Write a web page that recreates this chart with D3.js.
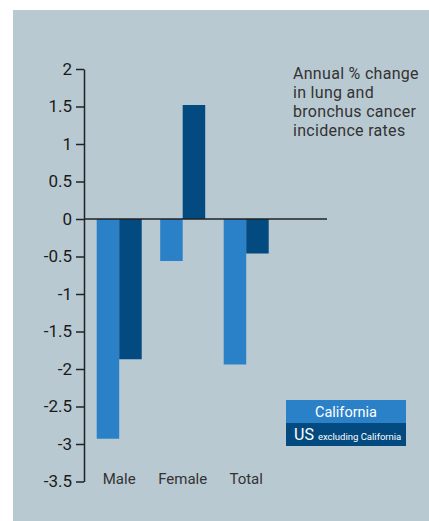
<!DOCTYPE html>
<html><head><meta charset="utf-8">
<script src="https://cdn.jsdelivr.net/npm/d3@7"></script>
<style>
html,body{margin:0;padding:0;background:#fff;}
svg{display:block;}
</style></head>
<body>
<script>
const categories = ["Male", "Female", "Total"];
const seriesNames = ["California", "US excluding California"];
const california = [-2.93, -0.56, -1.94];
const usExclCalifornia = [-1.87, 1.52, -0.46];
const yTicks = [2, 1.5, 1, 0.5, 0, -0.5, -1, -1.5, -2, -2.5, -3, -3.5];
const annotation = ["Annual % change", "in lung and", "bronchus cancer", "incidence rates"];

const W = 429, H = 521;
const colors = ["#2a81c7", "#034a80"];
const font = "Roboto, 'Liberation Sans', Arial, sans-serif";

const svg = d3.select("body").append("svg").attr("width", W).attr("height", H);
svg.append("rect").attr("x", 13).attr("y", 10).attr("width", W - 13).attr("height", H - 10).attr("fill", "#b9c9d2");

const y = d3.scaleLinear().domain([-3.5, 2]).range([481.5, 69]);
const x0 = d3.scaleBand().domain(categories).range([84, 281.4]).paddingInner(0.291).paddingOuter(0.2);
const x1 = d3.scaleBand().domain(seriesNames).range([0, x0.bandwidth()]);

const data = categories.map((c, i) => ({cat: c, vals: [california[i], usExclCalifornia[i]]}));

const g = svg.append("g");
data.forEach(d => {
  d.vals.forEach((v, j) => {
    g.append("rect")
      .attr("x", x0(d.cat) + x1(seriesNames[j]))
      .attr("width", x1.bandwidth())
      .attr("y", y(Math.max(0, v)))
      .attr("height", Math.abs(y(v) - y(0)))
      .attr("fill", colors[j]);
  });
});

// zero line
svg.append("line").attr("x1", 84).attr("x2", 327).attr("y1", y(0)).attr("y2", y(0))
  .attr("stroke", "#222").attr("stroke-width", 1.5);

// y axis
const axis = d3.axisLeft(y).tickValues(yTicks).tickSize(8).tickSizeOuter(0).tickPadding(4)
  .tickFormat(d => d3.format("")(d).replace("−", "-"));
const ax = svg.append("g").attr("transform", "translate(84,0)").call(axis);
ax.select(".domain").attr("stroke", "#222").attr("stroke-width", 1.5);
ax.selectAll(".tick line").attr("stroke", "#222").attr("stroke-width", 1.5);
ax.selectAll(".tick text").attr("fill", "#1a1a1a").style("font-family", font).style("font-size", "17px");

// category labels
svg.selectAll("text.cat").data(categories).enter().append("text")
  .attr("class", "cat")
  .attr("x", d => x0(d) + x0.bandwidth() / 2)
  .attr("y", 484)
  .attr("text-anchor", "middle")
  .attr("fill", "#333")
  .style("font-family", font).style("font-size", "15px")
  .text(d => d);

// annotation
const ann = svg.append("text").attr("x", 293).attr("y", 79)
  .attr("fill", "#333").style("font-family", font).style("font-size", "16px")
  .style("letter-spacing", "0.3px");
annotation.forEach((t, i) => ann.append("tspan").attr("x", 293).attr("dy", i === 0 ? 0 : 19).text(t));

// legend
const lx = 286, lw = 120, lh = 23;
svg.append("rect").attr("x", lx).attr("y", 400).attr("width", lw).attr("height", lh).attr("fill", colors[0]);
svg.append("rect").attr("x", lx).attr("y", 400 + lh).attr("width", lw).attr("height", lh).attr("fill", colors[1]);
svg.append("text").attr("x", lx + lw / 2).attr("y", 417).attr("text-anchor", "middle")
  .attr("fill", "#fff").style("font-family", font).style("font-size", "14.5px").text("California");
const t2 = svg.append("text").attr("x", 294).attr("y", 440)
  .attr("fill", "#fff").style("font-family", font);
t2.append("tspan").style("font-size", "16px").text("US");
t2.append("tspan").style("font-size", "9.5px").attr("dx", 4).text("excluding California");
</script>
</body></html>
